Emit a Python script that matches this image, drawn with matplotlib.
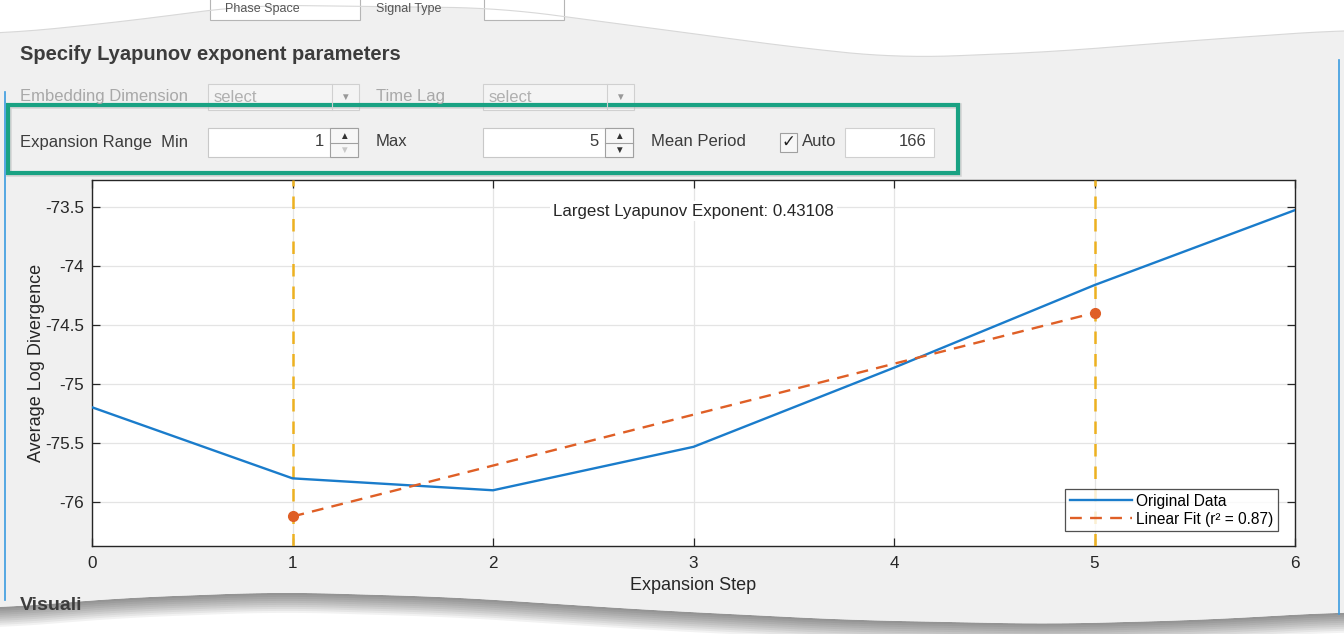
import matplotlib.pyplot as plt
import numpy as np
from matplotlib.lines import Line2D
from matplotlib.patches import Rectangle, Polygon

plt.rcParams["font.family"] = ["Liberation Sans", "DejaVu Sans"]

# data
steps = [0, 1, 2, 3, 4, 5, 6]
avg_log_div = [-75.195, -75.797, -75.898, -75.530, -74.860, -74.160, -73.525]
fit_x = [1, 5]
fit_y = [-76.120, -74.395]
range_min, range_max = 1, 5
mean_period = 166
lyap_exp = 0.43108
r_squared = 0.87

W, H = 1344, 634
fig = plt.figure(figsize=(W / 100, H / 100), dpi=100, facecolor="white")

# background "torn screenshot" panel, drawn in pixel coords
bg = fig.add_axes([0, 0, 1, 1])
bg.set_xlim(0, W)
bg.set_ylim(H, 0)
bg.axis("off")

xs = np.linspace(0, W, 300)
top_edge = np.interp(xs, [0, 120, 250, 500, 650, 800, 900, 1050, 1200, 1344],
                     [34, 22, 5, 8, 28, 48, 58, 52, 40, 30])
bot_edge = np.interp(xs, [0, 120, 280, 450, 650, 850, 1050, 1200, 1344],
                     [608, 598, 592, 597, 610, 620, 624, 620, 612])
k = np.ones(25) / 25
top_edge = np.convolve(np.pad(top_edge, 12, mode="edge"), k, mode="valid")
bot_edge = np.convolve(np.pad(bot_edge, 12, mode="edge"), k, mode="valid")

# shadow under bottom edge
for d in range(2, 22, 2):
    bg.fill_between(xs, bot_edge, bot_edge + d, color="black", alpha=0.05, lw=0)
pts = np.vstack([np.column_stack([xs, top_edge]),
                 np.column_stack([xs[::-1], bot_edge[::-1]])])
panel = Polygon(pts, closed=True, facecolor="#f0f0f0", edgecolor="none")
bg.add_patch(panel)
bg.plot(xs, top_edge, color="#d8d8d8", lw=0.8)
bg.plot([5, 5], [92, 600], color="#3a9be0", lw=1.2)
bg.plot([1339, 1339], [60, 614], color="#3a9be0", lw=1.2)

# partial controls cut off at the top
bg.add_patch(Rectangle((210, -4), 150, 24, facecolor="white", edgecolor="#b5b5b5", lw=0.8))
bg.add_patch(Rectangle((484, -4), 80, 24, facecolor="white", edgecolor="#b5b5b5", lw=0.8))
bg.text(225, 9, "Phase Space", fontsize=9, color="#555555", va="center")
bg.text(376, 9, "Signal Type", fontsize=9, color="#555555", va="center")

bg.text(20, 54, "Specify Lyapunov exponent parameters", fontsize=14.5,
        fontweight="bold", color="#3c3c3c", va="center")

# disabled row
grey = "#a8a8a8"
bg.text(20, 97, "Embedding Dimension", fontsize=12, color=grey, va="center")
bg.text(376, 97, "Time Lag", fontsize=12, color=grey, va="center")
for x0 in (208, 483):
    bg.add_patch(Rectangle((x0, 84), 151, 26, facecolor="#f4f4f4", edgecolor="#d0d0d0", lw=0.8))
    bg.plot([x0 + 124, x0 + 124], [84, 110], color="#d0d0d0", lw=0.8)
    bg.text(x0 + 6, 97, "select", fontsize=12, color="#b0b0b0", va="center")
    bg.text(x0 + 137, 97, "\u25bc", fontsize=7, color="#999999", va="center", ha="center")

# expansion range row
txt = "#3c3c3c"
bg.text(20, 142, "Expansion Range  Min", fontsize=12, color=txt, va="center")
bg.text(376, 142, "Max", fontsize=12, color=txt, va="center")
bg.text(651, 142, "Mean Period", fontsize=12, color=txt, va="center")
for x0, val, dn in ((208, range_min, "#c8c8c8"), (483, range_max, "#333333")):
    bg.add_patch(Rectangle((x0, 128), 150, 29, facecolor="white", edgecolor="#c8c8c8", lw=0.8))
    bg.add_patch(Rectangle((x0 + 122, 128), 28, 29, facecolor="#f7f7f7", edgecolor="#a0a0a0", lw=0.8))
    bg.plot([x0 + 122, x0 + 150], [142.5, 142.5], color="#a0a0a0", lw=0.8)
    bg.text(x0 + 136, 136, "\u25b2", fontsize=7, color="#333333", va="center", ha="center")
    bg.text(x0 + 136, 150, "\u25bc", fontsize=7, color=dn, va="center", ha="center")
    bg.text(x0 + 116, 142, str(val), fontsize=12, color=txt, va="center", ha="right")
bg.add_patch(Rectangle((780, 133), 17, 19, facecolor="#f7f7f7", edgecolor="#a0a0a0", lw=0.8))
bg.text(788.5, 142, "\u2713", fontsize=12, color="#222222", va="center", ha="center",
        family="DejaVu Sans")
bg.text(802, 142, "Auto", fontsize=12, color=txt, va="center")
bg.add_patch(Rectangle((845, 128), 89, 29, facecolor="white", edgecolor="#d0d0d0", lw=0.8))
bg.text(926, 142, str(mean_period), fontsize=12, color=txt, va="center", ha="right")

# highlight box
bg.add_patch(Rectangle((9, 106), 950, 68, facecolor="none", edgecolor="#b8b8b8", lw=4, alpha=0.5))
bg.add_patch(Rectangle((8, 105), 950, 68, facecolor="none", edgecolor="#19a283", lw=3))

vis = bg.text(20, 606, "Visuali", fontsize=14, fontweight="bold", color="#3c3c3c", va="center")
vis.set_clip_path(panel)

# main chart
L, R, T, B = 92, 1295, 180, 546
ax = fig.add_axes([L / W, 1 - B / H, (R - L) / W, (B - T) / H])
ax.set_facecolor("white")

blue, orange, yellow = "#1a7ccb", "#df5f26", "#EDB120"
for xv in (range_min, range_max):
    ax.axvline(xv, color=yellow, lw=1.8, ls=(0, (5, 4)), zorder=3)
ax.plot(steps, avg_log_div, color=blue, lw=1.7, zorder=4)
ax.plot(fit_x, fit_y, color=orange, lw=1.7, ls=(0, (5, 3.5)), zorder=5)
ax.plot(fit_x, fit_y, ls="none", marker="o", ms=7, color=orange, zorder=6)

ax.set_xlim(0, 6)
ax.set_ylim(-76.37, -73.27)
ax.set_xticks(steps)
ax.set_yticks([-76, -75.5, -75, -74.5, -74, -73.5])
ax.set_yticklabels(["-76", "-75.5", "-75", "-74.5", "-74", "-73.5"])
ax.grid(True, color="#e4e4e4", lw=0.9)
ax.set_axisbelow(True)
ax.tick_params(direction="in", length=6, width=0.9, top=True, right=True,
               colors="#262626", labelsize=12.3, pad=7)
ax.tick_params(axis="y", pad=6)
for s in ax.spines.values():
    s.set_color("#262626")
    s.set_linewidth(1.0)

ax.set_xlabel("Expansion Step", fontsize=13, color="#262626", labelpad=4.5)
ax.set_ylabel("Average Log Divergence", fontsize=13, color="#262626", labelpad=0)
ax.text(0.5, 0.915, f"Largest Lyapunov Exponent: {lyap_exp}", transform=ax.transAxes,
        ha="center", va="center", fontsize=12.2, color="#262626", zorder=7,
        bbox=dict(facecolor="white", edgecolor="none", pad=2))

handles = [Line2D([], [], color=blue, lw=1.7),
           Line2D([], [], color=orange, lw=1.7, ls=(0, (5, 3.5)))]
leg = ax.legend(handles, ["Original Data", f"Linear Fit (r\u00b2 = {r_squared})"],
                loc="lower right", bbox_to_anchor=(0.986, 0.04), fontsize=11.2,
                frameon=True, fancybox=False, edgecolor="#262626",
                handlelength=4.0, handletextpad=0.25, borderpad=0.3,
                labelspacing=0.2, borderaxespad=0)
leg.get_frame().set_linewidth(0.9)
leg.set_zorder(8)

fig.savefig("out.png", dpi=100, facecolor="white")
